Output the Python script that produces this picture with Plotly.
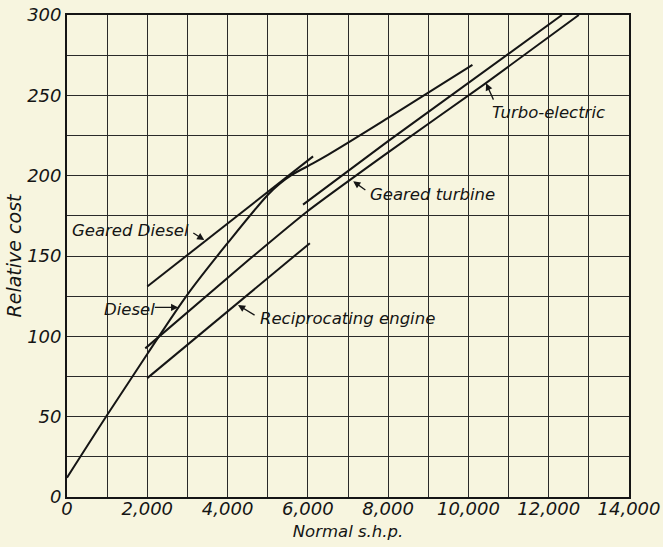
import plotly.graph_objects as go

# ---- data ----
diesel_x = [0, 1000, 2000, 3000, 4000, 5000, 5300, 5600, 6000, 6500, 8000, 10100]
diesel_y = [12, 51, 89, 126, 158, 188, 195, 200.5, 206, 213, 236, 269]

geared_diesel_x = [2000, 6130]
geared_diesel_y = [131, 212]

recip_x = [2000, 6050]
recip_y = [74, 158]

geared_turbine_x = [1950, 4500, 6000, 8000, 10400, 12750]
geared_turbine_y = [92.5, 147, 178, 214.5, 257, 300]

turbo_x = [5880, 8000, 12330]
turbo_y = [182, 221.5, 300]

x_ticks = [0, 2000, 4000, 6000, 8000, 10000, 12000, 14000]
y_ticks = [0, 50, 100, 150, 200, 250, 300]

# label text, text anchor (left edge, middle), arrow tail, arrow tip
labels = ["Geared Diesel", "Diesel", "Reciprocating engine", "Geared turbine", "Turbo-electric"]
label_x = [75, 872, 4760, 7500, 10540]
label_y = [166, 116.4, 111.4, 188, 239.6]
tail_x = [3110, 2150, 4710, 7470, 10640]
tail_y = [164.9, 118, 112.6, 190.4, 246.4]
tip_x = [3420, 2770, 4260, 7130, 10440]
tip_y = [160, 118, 119.5, 196.5, 257.5]

INK = "#151515"
BG = "#F7F5DF"
FONT = "DejaVu Sans"

fig = go.Figure()
line_style = dict(color=INK, width=2)
fig.add_trace(go.Scatter(x=diesel_x, y=diesel_y, mode="lines", name="Diesel",
                         line=dict(color=INK, width=2, shape="spline", smoothing=1.0)))
fig.add_trace(go.Scatter(x=geared_diesel_x, y=geared_diesel_y, mode="lines", name="Geared Diesel", line=line_style))
fig.add_trace(go.Scatter(x=recip_x, y=recip_y, mode="lines", name="Reciprocating engine", line=line_style))
fig.add_trace(go.Scatter(x=geared_turbine_x, y=geared_turbine_y, mode="lines", name="Geared turbine",
                         line=dict(color=INK, width=2, shape="spline", smoothing=0.6)))
fig.add_trace(go.Scatter(x=turbo_x, y=turbo_y, mode="lines", name="Turbo-electric", line=line_style))

annotations = []
for i, t in enumerate(labels):
    annotations.append(dict(x=label_x[i], y=label_y[i], xref="x", yref="y", text=t,
                            showarrow=False, xanchor="left", yanchor="middle",
                            font=dict(family=FONT, size=16.5, color=INK, style="italic")))
    annotations.append(dict(x=tip_x[i], y=tip_y[i], xref="x", yref="y",
                            ax=tail_x[i], ay=tail_y[i], axref="x", ayref="y",
                            text="", showarrow=True, arrowhead=2, arrowsize=1.1,
                            arrowwidth=1.3, arrowcolor=INK, standoff=0, startstandoff=0))

tick_font = dict(family=FONT, size=18, color=INK, style="italic")
grid = dict(showgrid=True, gridcolor="#2a2a2a", gridwidth=1.2)

fig.update_layout(
    width=663, height=547,
    margin=dict(l=67, r=34, t=15, b=50),
    paper_bgcolor=BG, plot_bgcolor=BG,
    showlegend=False,
    annotations=annotations,
    xaxis=dict(range=[0, 14000], tickvals=x_ticks, tickformat=",d", tickfont=tick_font,
               minor=dict(dtick=1000, showgrid=True, gridcolor="#2a2a2a", gridwidth=1.2),
               showline=True, linecolor=INK, linewidth=1.8, mirror=True, zeroline=False,
               ticks="", ticklabelstandoff=-6, automargin=False, **grid,
               title=dict(text="Normal s.h.p.", standoff=8,
                          font=dict(family=FONT, size=16.5, color=INK, style="italic"))),
    yaxis=dict(range=[0, 300], tickvals=y_ticks, tickfont=tick_font,
               minor=dict(dtick=25, showgrid=True, gridcolor="#2a2a2a", gridwidth=1.2),
               showline=True, linecolor=INK, linewidth=1.8, mirror=True, zeroline=False,
               ticks="", ticklabelstandoff=0, automargin=False, **grid,
               title=dict(text="Relative cost", standoff=0,
                          font=dict(family=FONT, size=19, color=INK, style="italic"))),
)

fig.write_html("out.html", config={"displayModeBar": False},
               post_script="document.body.style.margin='0';document.body.style.background='%s';" % BG)
